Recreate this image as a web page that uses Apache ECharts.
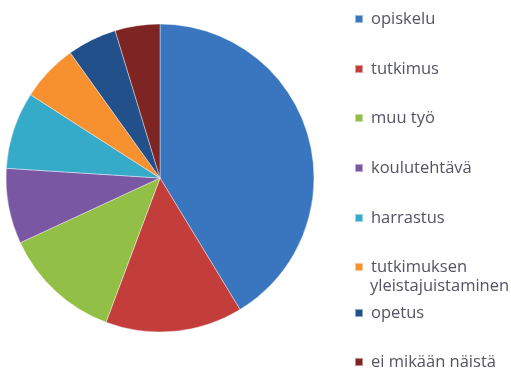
<!DOCTYPE html>
<html><head><meta charset="utf-8">
<script src="https://cdn.jsdelivr.net/npm/echarts@6/dist/echarts.min.js"></script>
<style>html,body{margin:0;padding:0;background:#fff}#c{width:511px;height:374px}</style>
</head><body><div id="c"></div>
<script>
const categories = ["opiskelu","tutkimus","muu työ","koulutehtävä","harrastus","tutkimuksen\nyleistajuistaminen","opetus","ei mikään näistä"];
const values = [41.3, 14.4, 12.4, 7.9, 8.1, 6.0, 5.2, 4.7];
const colors = ["#3a76c0","#c33d3b","#92bf45","#7a57a3","#36abc9","#f7902f","#22508a","#7e2422"];
const legendCenters = [19, 69, 118, 168, 218, 267, 313, 362];

const LH = 19;
const FS = 16.5;
const TXT = '#535363';
const chart = echarts.init(document.getElementById('c'), null, {renderer:'canvas'});
const legends = categories.map((n,i)=>({
  data:[n], left:354, top:legendCenters[i] - LH/2, orient:'vertical', padding:0,
  itemWidth:8, itemHeight:8, itemGap:0, icon:'rect',
  formatter:(name)=>name.split('\n')[0],
  textStyle:{fontFamily:'Open Sans', fontSize:FS, color:TXT, lineHeight:LH, padding:[0,0,0,3]},
  selectedMode:false
}));
const extraLines = [];
categories.forEach((n,i)=>{
  n.split('\n').slice(1).forEach((line,k)=>{
    extraLines.push({type:'text', left:370, top:legendCenters[i] + (k+1)*LH - LH/2,
      style:{text:line, font:FS+'px "Open Sans"', fill:TXT, lineHeight:LH}});
  });
});
chart.setOption({
  animation:false,
  color:colors,
  legend:legends,
  graphic:extraLines,
  series:[{
    type:'pie', center:[160,178], radius:154, startAngle:90, clockwise:true,
    label:{show:false}, labelLine:{show:false},
    itemStyle:{borderColor:'rgba(255,255,255,0.5)', borderWidth:0.8},
    data:categories.map((n,i)=>({name:n, value:values[i]}))
  }]
});
</script></body></html>
